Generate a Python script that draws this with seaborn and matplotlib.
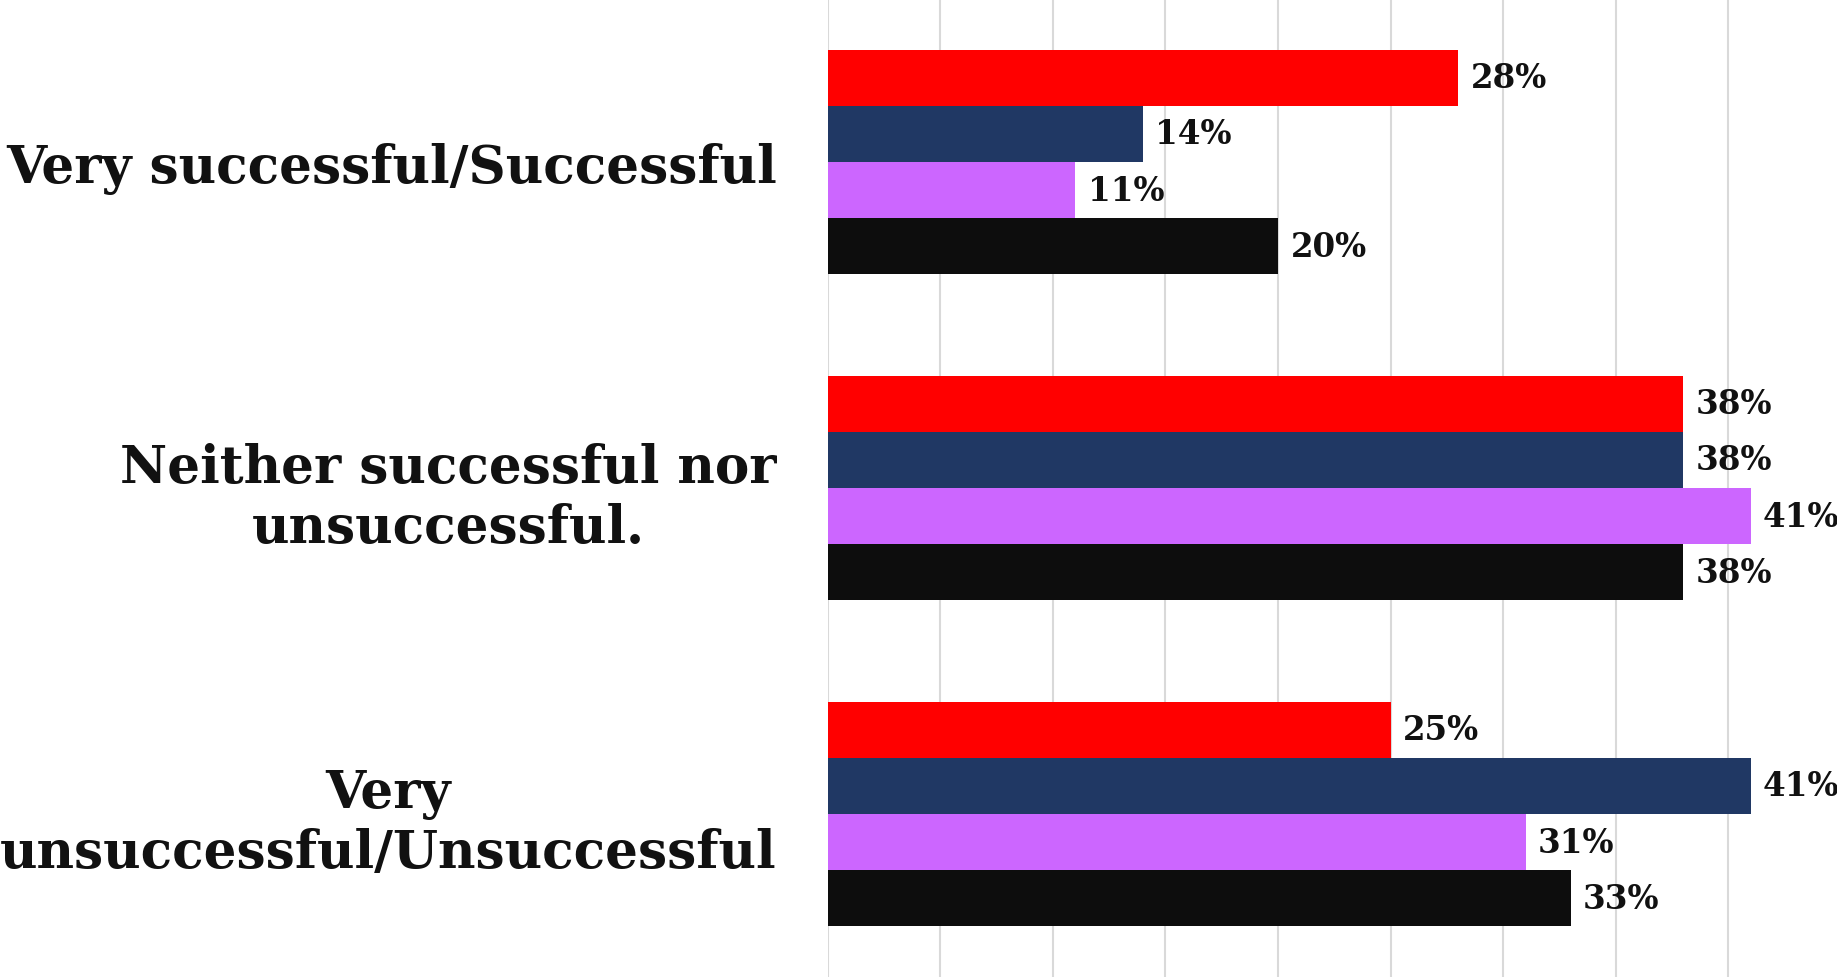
import matplotlib
matplotlib.use("Agg")
import matplotlib.pyplot as plt
import pandas as pd
import seaborn as sns

# data
categories = ["Very successful/Successful",
              "Neither successful nor\nunsuccessful.",
              "Very\nunsuccessful/Unsuccessful"]
series = ["Series 1", "Series 2", "Series 3", "Series 4"]
values = {
    "Series 1": [28, 38, 25],
    "Series 2": [14, 38, 41],
    "Series 3": [11, 41, 31],
    "Series 4": [20, 38, 33],
}
colors = ["#FF0000", "#203864", "#CC66FF", "#0D0D0D"]

rows = []
for s in series:
    for cat, v in zip(categories, values[s]):
        rows.append({"category": cat, "series": s, "value": v})
df = pd.DataFrame(rows)

sns.set_theme(style="white")
plt.rcParams["font.family"] = ["DejaVu Serif"]

fig = plt.figure(figsize=(18.37, 9.78), dpi=100)
ax = fig.add_axes([0.4507, 0.0, 0.5493, 1.0])

sns.barplot(data=df, y="category", x="value", hue="series", order=categories,
            hue_order=series, palette=colors, orient="h", width=0.69,
            linewidth=0, saturation=1, legend=False, ax=ax)

for cont in ax.containers:
    ax.bar_label(cont, labels=[f"{v:.0f}%" for v in cont.datavalues],
                 padding=9, fontsize=23.5, fontweight="bold", color="#111111")

ax.set_xlim(0, 44.84)
ax.set_ylim(2.5, -0.5)
ax.set_xticks(range(0, 45, 5))
ax.set_xticklabels([])
ax.grid(True, axis="x", color="#D9D9D9", linewidth=1.5)
ax.set_axisbelow(True)
for sp in ax.spines.values():
    sp.set_visible(False)
ax.tick_params(axis="both", length=0)
ax.tick_params(axis="y", pad=37)
ax.set_xlabel("")
ax.set_ylabel("")
for lab in ax.get_yticklabels():
    lab.set_fontsize(37.2)
    lab.set_fontweight("bold")
    lab.set_color("#111111")
    lab.set_multialignment("center")

fig.savefig("out.png", dpi=100)
